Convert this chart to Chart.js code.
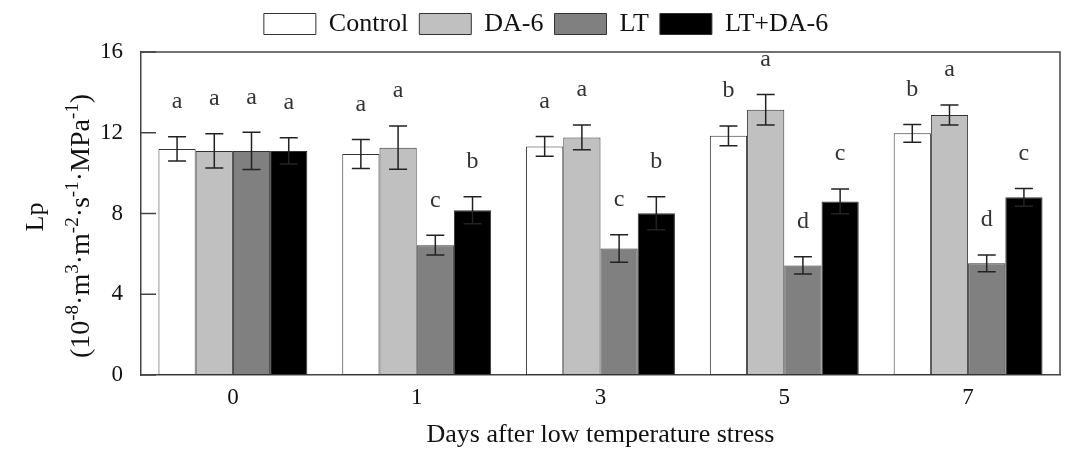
<!DOCTYPE html>
<html>
<head>
<meta charset="utf-8">
<script src="https://cdn.jsdelivr.net/npm/chart.js@4.4.1/dist/chart.umd.min.js"></script>
<style>
  html, body { margin: 0; padding: 0; background: #fff; }
  #wrap { width: 1065px; height: 451px; position: relative; }
</style>
</head>
<body>
<div id="wrap"><canvas id="c" width="1065" height="451"></canvas></div>
<script>
// ---- data ----
const categories = ['0', '1', '3', '5', '7'];
const seriesNames = ['Control', 'DA-6', 'LT', 'LT+DA-6'];
const controlValues = [11.2, 10.95, 11.32, 11.85, 11.97];
const da6Values     = [11.1, 11.26, 11.77, 13.14, 12.88];
const ltValues      = [11.1, 6.43, 6.27, 5.43, 5.53];
const ltDa6Values   = [11.1, 8.16, 8.01, 8.6, 8.8];
const controlErr = [0.6, 0.72, 0.49, 0.49, 0.44];
const da6Err     = [0.85, 1.07, 0.61, 0.76, 0.5];
const ltErr      = [0.92, 0.49, 0.68, 0.43, 0.42];
const ltDa6Err   = [0.65, 0.67, 0.82, 0.61, 0.44];
const controlLetters = ['a', 'a', 'a', 'b', 'b'];
const da6Letters     = ['a', 'a', 'a', 'a', 'a'];
const ltLetters      = ['a', 'c', 'c', 'd', 'd'];
const ltDa6Letters   = ['a', 'b', 'b', 'c', 'c'];
const yTicks = [0, 4, 8, 12, 16];

const FONT = "'Liberation Serif', 'Times New Roman', serif";
const colors = ['#ffffff', '#c0c0c0', '#808080', '#000000'];
const valuesAll = [controlValues, da6Values, ltValues, ltDa6Values];
const errAll = [controlErr, da6Err, ltErr, ltDa6Err];
const lettersAll = [controlLetters, da6Letters, ltLetters, ltDa6Letters];

const datasets = seriesNames.map((n, i) => ({
  label: n,
  data: valuesAll[i],
  backgroundColor: colors[i],
  borderColor: '#333',
  borderWidth: 1,
  borderSkipped: false,
  categoryPercentage: 0.81,
  barPercentage: 1.0,
  errors: errAll[i],
  letters: lettersAll[i]
}));

const legendSpace = {
  id: 'legendSpace',
  afterInit(chart) {
    const lg = chart.legend;
    if (lg && !lg._patched) {
      const orig = lg.fit;
      lg.fit = function () { orig.call(this); this.height += 5; };
      lg._patched = true;
    }
  }
};

const decor = {
  id: 'decor',
  afterDatasetsDraw(chart) {
    const ctx = chart.ctx;
    const y = chart.scales.y;
    const a = chart.chartArea;
    ctx.save();
    // error bars + letters
    chart.data.datasets.forEach((ds, di) => {
      const meta = chart.getDatasetMeta(di);
      meta.data.forEach((bar, i) => {
        const v = ds.data[i], e = ds.errors[i];
        const x = bar.x;
        const yt = y.getPixelForValue(v + e);
        const yb = y.getPixelForValue(v - e);
        ctx.strokeStyle = '#222';
        ctx.lineWidth = 1.5;
        ctx.beginPath();
        ctx.moveTo(x, yt); ctx.lineTo(x, yb);
        ctx.moveTo(x - 9, yt); ctx.lineTo(x + 9, yt);
        ctx.moveTo(x - 9, yb); ctx.lineTo(x + 9, yb);
        ctx.stroke();
        ctx.fillStyle = '#333';
        ctx.font = '24px ' + FONT;
        ctx.textAlign = 'center';
        ctx.textBaseline = 'middle';
        ctx.fillText(ds.letters[i], x, yt - 35);
      });
    });
    // frame top + right
    ctx.strokeStyle = '#444';
    ctx.lineWidth = 1.5;
    ctx.beginPath();
    ctx.moveTo(a.left, a.top); ctx.lineTo(a.right, a.top); ctx.lineTo(a.right, a.bottom);
    ctx.stroke();
    // inward y ticks
    ctx.beginPath();
    yTicks.forEach(t => {
      const py = y.getPixelForValue(t);
      ctx.moveTo(a.left, py); ctx.lineTo(a.left + 15, py);
    });
    ctx.stroke();
    // y-axis title with superscripts
    ctx.fillStyle = '#111';
    ctx.textBaseline = 'alphabetic';
    ctx.translate(43, 217);
    ctx.rotate(-Math.PI / 2);
    ctx.font = '26px ' + FONT;
    ctx.textAlign = 'center';
    ctx.fillText('Lp', 0, 0);
    ctx.setTransform(1, 0, 0, 1, 0, 0);
    const segs = [['(10', 0], ['-8', 1], ['·m', 0], ['3', 1], ['·m', 0], ['-2', 1], ['·s', 0], ['-1', 1], ['·MPa', 0], ['-1', 1], [')', 0]];
    const mainF = '28px ' + FONT, supF = '19px ' + FONT;
    let total = 0;
    segs.forEach(s => { ctx.font = s[1] ? supF : mainF; total += ctx.measureText(s[0]).width; });
    ctx.translate(89, 226);
    ctx.rotate(-Math.PI / 2);
    ctx.textAlign = 'left';
    let px = -total / 2;
    segs.forEach(s => {
      ctx.font = s[1] ? supF : mainF;
      ctx.fillText(s[0], px, s[1] ? -11 : 0);
      px += ctx.measureText(s[0]).width;
    });
    ctx.restore();
  }
};

new Chart(document.getElementById('c'), {
  type: 'bar',
  data: { labels: categories, datasets },
  options: {
    responsive: false,
    animation: false,
    layout: { padding: { left: 32, right: 5, top: 0, bottom: 0 } },
    plugins: {
      legend: {
        position: 'top',
        labels: {
          boxWidth: 52, boxHeight: 21, padding: 11,
          color: '#111',
          font: { family: FONT, size: 26 }
        }
      },
      tooltip: { enabled: false }
    },
    scales: {
      x: {
        afterFit(s) { s.height = 76; },
        grid: { display: false, drawTicks: false },
        border: { display: true, color: '#444', width: 1.5 },
        ticks: { color: '#111', font: { family: FONT, size: 23 }, padding: 9 },
        title: { display: true, text: 'Days after low temperature stress', color: '#111',
                 font: { family: FONT, size: 26 }, padding: { top: 0, bottom: 0 } }
      },
      y: {
        min: 0, max: 16,
        afterFit(s) { s.width = 109; },
        afterBuildTicks(s) { s.ticks = yTicks.map(v => ({ value: v })); },
        grid: { display: false, drawTicks: false },
        border: { display: true, color: '#444', width: 1.5 },
        ticks: { color: '#111', font: { family: FONT, size: 23 }, padding: 18 }
      }
    }
  },
  plugins: [legendSpace, decor]
});
</script>
</body>
</html>
